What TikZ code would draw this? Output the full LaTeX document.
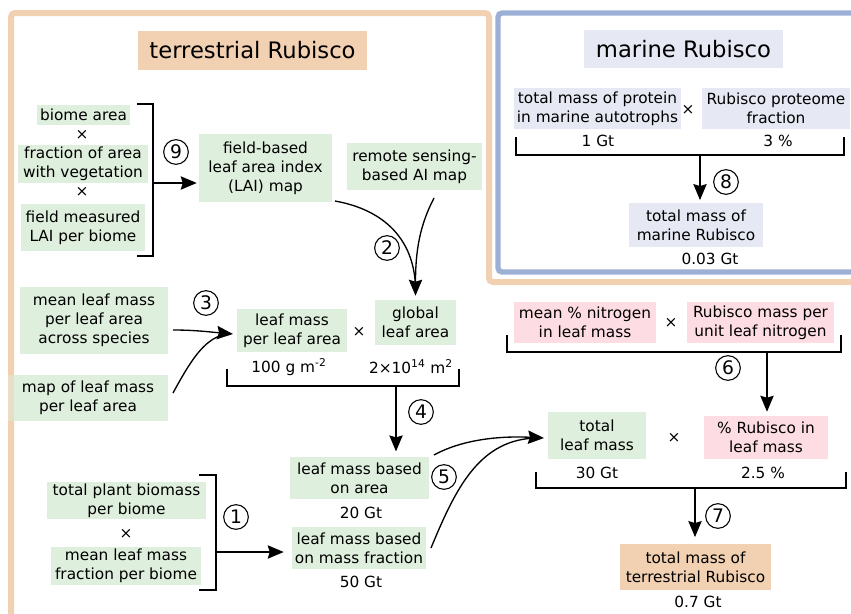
\documentclass[tikz,border=0pt]{standalone}
\usepackage{fontspec}
\setmainfont{DejaVu Sans}
\usetikzlibrary{arrows.meta}
\definecolor{peach}{RGB}{242,209,178}
\definecolor{frameblue}{RGB}{156,176,214}
\definecolor{gfill}{RGB}{223,239,221}
\definecolor{pfill}{RGB}{253,221,227}
\definecolor{mfill}{RGB}{230,233,243}
\def\pxu{0.75pt}
\tikzset{
  every node/.style={font=\fontsize{11.5}{14.25}\selectfont, inner sep=0pt, align=center},
  tbox/.style={font=\fontsize{17}{20}\selectfont},
  gbox/.style={fill=gfill},
  pbox/.style={fill=pfill},
  mbox/.style={fill=mfill},
  obox/.style={fill=peach},
  sz/.style 2 args={minimum width=#1*\pxu, minimum height=#2*\pxu},
  num/.style={circle, draw, line width=0.8pt, minimum size=18.5pt, font=\fontsize{14}{14}\selectfont},
  brk/.style={line width=1pt},
  con/.style={line width=1pt},
  arr/.style={line width=1pt, -{Stealth[length=12pt,width=10pt,inset=1.5pt]}},
  frameO/.style={draw=peach, line width=4.5pt, rounded corners=3pt},
  frameB/.style={draw=frameblue, line width=4pt, rounded corners=3pt},
}
\begin{document}
\begin{tikzpicture}[x=0.75pt,y=-0.75pt]
\useasboundingbox (0,0) rectangle (851,614);
\clip (0,0) rectangle (851,614);
% frames
\draw[frameO] (11,640) -- (11,13) -- (489,13) -- (489,282) -- (880,282);
\draw[frameB] (880,13) -- (498,13) -- (498,272) -- (880,272);

% titles
\node[tbox, obox, sz={229}{39}] (tR) at (252.5,50.5) {terrestrial Rubisco};
\node[tbox, mbox, sz={199}{38}] (mR) at (683.5,49) {marine Rubisco};

% step 9
\node[gbox, sz={93}{20}] (biome) at (83.5,115) {biome area};
\node (x1) at (82,135) {×};
\node[gbox, sz={130}{38}] (frac) at (83,164) {fraction of area\\with vegetation};
\node (x2) at (82,192) {×};
\node[gbox, sz={124}{47}] (field) at (83,227.5) {field measured\\LAI per biome};
\draw[brk] (137,104) -- (153,104) -- (153,256) -- (137,256);
\coordinate (b9) at (153,183);
\node[gbox, sz={133}{68}] (lai) at (265.5,168) {field-based\\leaf area index\\(LAI) map};
\draw[arr, shorten >=1.5pt] (b9) -- (lai.west |- b9);
\node[num] (n9) at (176,152) {9};

% step 2
\node[gbox, sz={135}{47}] (rs) at (414.5,166.5) {remote sensing-\\based AI map};
\node[gbox, sz={81}{45}] (gla) at (415.5,322.5) {global\\leaf area};
\coordinate (c2a) at (335,201);
\coordinate (c2b) at (434,198);
\draw[con] (c2a) .. controls (385,210) and (414,240) .. (415.5,287);
\draw[arr, shorten >=3pt] (c2b) .. controls (420,225) and (415.5,250) .. (gla.north);
\node[num] (n2) at (387,248) {2};

% step 3
\node[gbox, sz={148}{67}] (mlma) at (94,320.5) {mean leaf mass\\per leaf area\\across species};
\node[gbox, sz={160}{46}] (map) at (88,398) {map of leaf mass\\per leaf area};
\begin{scope}
\clip (map.south west) rectangle (map.north east);
\draw[draw=peach, line width=4.5pt, opacity=0.55] (11,300) -- (11,450);
\end{scope}
\node[gbox, sz={110}{43}] (lma) at (292,330.5) {leaf mass\\per leaf area};
\node (x3) at (359,332) {×};
\node (v100) at (289,367) {100 g m\textsuperscript{-2}};
\node (v2e14) at (411,367) {2×10\textsuperscript{14} m\textsuperscript{2}};
\coordinate (c3a) at (173,330);
\coordinate (c3b) at (173,393);
\coordinate (c3t) at (233,334);
\draw[arr] (c3a) .. controls (195,330) and (210,332) .. (c3t);
\draw[con] (c3b) .. controls (190,362) and (203,340) .. (224,334.5);
\node[num] (n3) at (206,303) {3};

% step 4
\draw[brk] (227,369) -- (227,386) -- (459,386) -- (459,369);
\coordinate (b4) at (396,386);
\node[gbox, sz={139}{42}] (lmA) at (359.5,478) {leaf mass based\\on area};
\node (v20) at (361,513) {20 Gt};
\draw[arr, shorten >=4pt] (b4) -- (b4 |- lmA.north);
\node[num] (n4) at (421,412) {4};

% step 1
\node[gbox, sz={159}{37}] (tpb) at (126.5,500.5) {total plant biomass\\per biome};
\node (x4) at (126,534) {×};
\node[gbox, sz={150}{38}] (mlmf) at (126,566) {mean leaf mass\\fraction per biome};
\draw[brk] (199,475) -- (216,475) -- (216,590) -- (199,590);
\coordinate (b1) at (216,552);
\node[gbox, sz={134}{42}] (lmM) at (359,548) {leaf mass based\\on mass fraction};
\node (v50) at (361,582) {50 Gt};
\draw[arr, shorten >=6pt] (b1) -- (b1 -| lmM.west);
\node[num] (n1) at (236,517) {1};

% step 5
\node[gbox, sz={98}{47}] (tlm) at (597,435.5) {total\\leaf mass};
\coordinate (c5a) at (434,455);
\coordinate (c5b) at (431,548);
\coordinate (c5t) at (544,438);
\draw[arr] (c5a) .. controls (465,438) and (505,436) .. (c5t);
\draw[con] (c5b) .. controls (455,490) and (478,442) .. (532,438.2);
\node[num] (n5) at (444,477) {5};

% marine
\node[mbox, sz={167}{41}] (tmp) at (597.5,108.5) {total mass of protein\\in marine autotrophs};
\node (x5) at (688,110) {×};
\node[mbox, sz={148}{41}] (rpf) at (776,108.5) {Rubisco proteome\\fraction};
\node (v1) at (598,141) {1 Gt};
\node (v3) at (778,141) {3 \%};
\draw[brk] (516,137) -- (516,155) -- (844,155) -- (844,137);
\coordinate (b8) at (700,155);
\node[mbox, sz={134}{44}] (tmr) at (696,225) {total mass of\\marine Rubisco};
\node (v003) at (710,259) {0.03 Gt};
\draw[arr, shorten >=2pt] (b8) -- (b8 |- tmr.north);
\node[num] (n8) at (726,182) {8};

% step 6
\node[pbox, sz={142}{41}] (mn) at (585,322.5) {mean \% nitrogen\\in leaf mass};
\node (x6) at (671,323) {×};
\node[pbox, sz={147}{41}] (rmn) at (760.5,322.5) {Rubisco mass per\\unit leaf nitrogen};
\draw[brk] (507,335) -- (507,352) -- (841,352) -- (841,335);
\coordinate (b6) at (767,352);
\node[pbox, sz={124}{43}] (pct) at (766,437.5) {\% Rubisco in\\leaf mass};
\draw[arr, shorten >=3pt] (b6) -- (b6 |- pct.north);
\node[num] (n6) at (728,368) {6};

% step 7
\node (x7) at (674,438) {×};
\node (v30) at (597,473) {30 Gt};
\node (v25) at (763,473) {2.5 \%};
\draw[brk] (536,472) -- (536,488) -- (846,488) -- (846,472);
\coordinate (b7) at (695,488);
\node[obox, sz={151}{46}] (ttr) at (695.5,567) {total mass of\\terrestrial Rubisco};
\node (v07) at (698,602) {0.7 Gt};
\draw[arr, shorten >=5pt] (b7) -- (b7 |- ttr.north);
\node[num] (n7) at (718,516) {7};
\end{tikzpicture}
\end{document}
